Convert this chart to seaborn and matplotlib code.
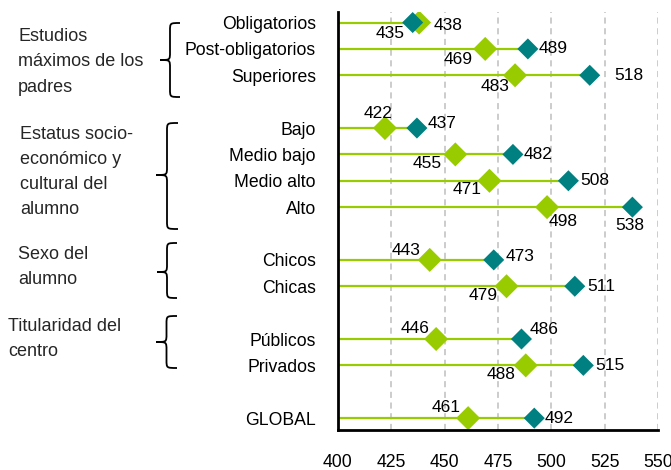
import numpy as np
import pandas as pd
import seaborn as sns
import matplotlib.pyplot as plt
from matplotlib.path import Path
from matplotlib.patches import PathPatch

# categories, grouped (a blank slot separates groups)
groups = [
    ["Obligatorios", "Post-obligatorios", "Superiores"],
    ["Bajo", "Medio bajo", "Medio alto", "Alto"],
    ["Chicos", "Chicas"],
    ["Públicos", "Privados"],
    ["GLOBAL"],
]
group_titles = [
    "Estudios\nmáximos de los\npadres",
    "Estatus socio-\neconómico y\ncultural del\nalumno",
    "Sexo del\nalumno",
    "Titularidad del\ncentro",
]
green_vals = [438, 469, 483, 422, 455, 471, 498, 443, 479, 446, 488, 461]
teal_vals = [435, 489, 518, 437, 482, 508, 538, 473, 511, 486, 515, 492]
xticks = [400, 425, 450, 475, 500, 525, 550]

GREEN = "#99CC00"
TEAL = "#008080"

# label offsets in pixels (dx, dy downwards, ha)
green_off = [(15, 3, "left"), (-27, 11, "center"), (-20, 11, "center"),
             (-7, -15, "center"), (-28, 9, "center"), (-22, 9, "center"),
             (16, 14, "center"), (-24, -9, "center"), (-23, 9, "center"),
             (-21, -11, "center"), (-25, 9, "center"), (-22, -11, "center")]
teal_off = [(-23, 11, "center"), (11, 0, "left"), (25, 0, "left"),
            (11, -5, "left"), (11, 0, "left"), (12, 0, "left"),
            (-3, 18, "center"), (12, -3, "left"), (12, 0, "left"),
            (8, -10, "left"), (12, 0, "left"), (10, 0, "left")]

# y slots with a gap between groups
cats, ypos = [], []
slot = 0
for g in groups:
    for c in g:
        cats.append(c)
        ypos.append(slot)
        slot += 1
    slot += 1

df = pd.DataFrame({"cat": cats, "y": ypos, "green": green_vals, "teal": teal_vals})

sns.set_style("white")
plt.rcParams["font.family"] = ["Liberation Sans", "DejaVu Sans"]

W, H = 671, 470
fig = plt.figure(figsize=(W / 100, H / 100), dpi=100)
ax = fig.add_axes([338 / W, 1 - 430 / H, (658 - 338) / W, (430 - 12) / H])

for x in xticks[1:]:
    ax.axvline(x, color="#BFBFBF", lw=1.1, ls=(0, (4, 3)), zorder=0)

ax.hlines(df["y"], 400, df[["green", "teal"]].max(axis=1), color=GREEN, lw=1.6, zorder=1)
sns.scatterplot(data=df, x="green", y="y", marker="D", s=150, color=GREEN,
                edgecolor="none", ax=ax, zorder=2)
sns.scatterplot(data=df, x="teal", y="y", marker="D", s=115, color=TEAL,
                edgecolor="none", ax=ax, zorder=3)

for i, r in df.iterrows():
    for val, off in ((r["green"], green_off[i]), (r["teal"], teal_off[i])):
        ax.annotate(str(val), (val, r["y"]), xytext=(off[0], -off[1]),
                    textcoords="offset pixels", ha=off[2], va="center",
                    fontsize=12.5, color="black")

ax.set_xlim(400, 550)
ax.set_ylim(15.45, -0.4)
ax.set_xticks(xticks)
ax.set_yticks(df["y"])
ax.set_yticklabels(df["cat"])
ax.tick_params(axis="both", length=0, labelsize=12.7, labelcolor="black")
ax.tick_params(axis="x", pad=17)
ax.tick_params(axis="y", pad=16)
ax.set_xlabel("")
ax.set_ylabel("")
for s in ["top", "right"]:
    ax.spines[s].set_visible(False)
for s in ["left", "bottom"]:
    ax.spines[s].set_color("black")
    ax.spines[s].set_linewidth(2)


def brace(x, top, bot, mid, w=20, r=8):
    h = w / 2
    pts = [(x + w, top), (x + h, top), (x + h, top), (x + h, top + r),
           (x + h, mid - r), (x + h, mid), (x + h, mid), (x, mid),
           (x + h, mid), (x + h, mid), (x + h, mid + r),
           (x + h, bot - r), (x + h, bot), (x + h, bot), (x + w, bot)]
    codes = [Path.MOVETO, Path.CURVE4, Path.CURVE4, Path.CURVE4,
             Path.LINETO, Path.CURVE4, Path.CURVE4, Path.CURVE4,
             Path.CURVE4, Path.CURVE4, Path.CURVE4,
             Path.LINETO, Path.CURVE4, Path.CURVE4, Path.CURVE4]
    pts = [(px / W, 1 - py / H) for px, py in pts]
    fig.patches.append(PathPatch(Path(pts, codes), fill=False, lw=1.3,
                                 ec="black", transform=fig.transFigure))


brace(160, 23, 97, 60)
brace(156, 123, 229, 175, w=22)
brace(157, 243, 298, 272)
brace(156, 316, 368, 342, w=21)

title_pos = [(18, 62), (20, 172), (18, 267), (8, 339)]
for t, (tx, ty) in zip(group_titles, title_pos):
    fig.text(tx / W, 1 - ty / H, t, ha="left", va="center", fontsize=13,
             linespacing=1.64)

fig.savefig("out.png", dpi=100)
